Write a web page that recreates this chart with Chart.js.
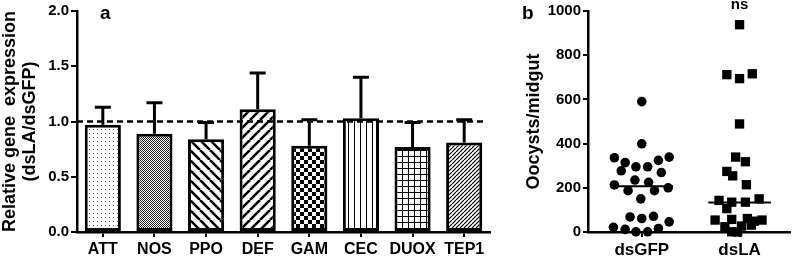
<!DOCTYPE html>
<html lang="en">
<head>
    <meta charset="UTF-8">
    <title>Relative gene expression / Oocysts per midgut</title>
    <script src="https://cdn.jsdelivr.net/npm/chart.js@4"></script>
    <style>
        body {
            margin: 0;
            background-color: #ffffff;
        }

        canvas {
            position: absolute;
            top: 0;
        }

        #chart-a {
            left: 0;
            width: 500px;
            height: 257px;
        }

        #chart-b {
            left: 500px;
            width: 297px;
            height: 257px;
        }
    </style>
</head>
<body>
    <canvas id="chart-a" width="500" height="257"></canvas>
    <canvas id="chart-b" width="297" height="257"></canvas>

    <script>
        // panel a data
        const genes = ['ATT', 'NOS', 'PPO', 'DEF', 'GAM', 'CEC', 'DUOX', 'TEP1'];
        const expression = [0.97, 0.89, 0.84, 1.11, 0.78, 1.03, 0.77, 0.81];
        const expressionErr = [0.16, 0.28, 0.15, 0.33, 0.235, 0.37, 0.22, 0.205];
        const yTicksA = [0, 0.5, 1.0, 1.5, 2.0];

        // panel b data
        const groups = ['dsGFP', 'dsLA'];
        const gfpOocysts = [590, 399, 336, 339, 314, 324, 295, 295, 277, 269, 235, 225, 213, 200, 187, 187, 150, 68, 71, 61, 21, 46, 12, 16, 1, 1];
        const gfpSpread = [0, 0, -0.28, 0.28, -0.17, 0.17, -0.06, 0.06, -0.21, 0.2, -0.07, 0.07, -0.28, 0.27, -0.14, 0.13, -0.01, -0.12, 0.12, 0, -0.29, 0.28, -0.17, 0.17, -0.06, 0.06];
        const laOocysts = [938, 712, 694, 716, 489, 339, 318, 274, 254, 214, 143, 135, 135, 150, 106, 54, 57, 61, 49, 54, 24, 27, 31, 1, 0];
        const laSpread = [0, -0.13, 0, 0.13, 0, -0.04, 0.06, -0.13, -0.07, 0.07, -0.21, -0.08, 0.06, 0.2, -0.13, -0.25, -0.08, 0.08, 0.15, 0.23, -0.15, 0.02, 0.12, -0.08, -0.02];
        const medians = [207, 134];

        const font = 'Liberation Sans, Arial, sans-serif';

        function makePattern(kind) {
            const c = document.createElement('canvas');
            const g = c.getContext('2d');
            let s = 8;
            if (kind === 'dots') s = 4;
            if (kind === 'finecheck') s = 2;
            if (kind === 'check') s = 8;
            if (kind === 'back' || kind === 'fwd') s = 10;
            if (kind === 'vlines') s = 6;
            if (kind === 'grid') s = 6;
            if (kind === 'finefwd') s = 4;
            c.width = s;
            c.height = s;
            g.fillStyle = '#fff';
            g.fillRect(0, 0, s, s);
            g.fillStyle = '#000';
            g.strokeStyle = '#000';
            if (kind === 'dots') {
                g.fillStyle = '#555';
                g.fillRect(1, 1, 1, 1);
            } else if (kind === 'finecheck') {
                g.fillStyle = '#222';
                g.fillRect(0, 0, 1, 1);
                g.fillRect(1, 1, 1, 1);
            } else if (kind === 'check') {
                g.fillRect(0, 0, 4, 4);
                g.fillRect(4, 4, 4, 4);
            } else if (kind === 'back' || kind === 'fwd' || kind === 'finefwd') {
                g.lineWidth = kind === 'finefwd' ? 1.2 : 2.6;
                g.beginPath();
                for (let k = -s; k <= s; k += s) {
                    if (kind === 'back') {
                        g.moveTo(k, 0);
                        g.lineTo(k + s, s);
                    } else {
                        g.moveTo(k, s);
                        g.lineTo(k + s, 0);
                    }
                }
                g.stroke();
            } else if (kind === 'vlines') {
                g.fillRect(0, 0, 1, s);
            } else if (kind === 'grid') {
                g.fillRect(0, 0, 1, s);
                g.fillRect(0, 0, s, 1);
            }
            return g.createPattern(c, 'repeat');
        }

        const barFills = ['dots', 'finecheck', 'back', 'fwd', 'check', 'vlines', 'grid', 'finefwd'].map(makePattern);

        // error bars + dashed reference line + panel letter
        const barExtras = {
            id: 'barExtras',
            afterDatasetsDraw(chart) {
                const { ctx, chartArea } = chart;
                const x = chart.scales.x;
                const y = chart.scales.y;
                ctx.save();
                ctx.strokeStyle = '#000';
                ctx.lineWidth = 3;
                genes.forEach((g, i) => {
                    const px = x.getPixelForValue(i);
                    const base = y.getPixelForValue(expression[i]);
                    const top = y.getPixelForValue(expression[i] + expressionErr[i]);
                    ctx.beginPath();
                    ctx.moveTo(px, base);
                    ctx.lineTo(px, top);
                    ctx.moveTo(px - 8, top);
                    ctx.lineTo(px + 8, top);
                    ctx.stroke();
                });
                ctx.lineWidth = 2.5;
                ctx.setLineDash([6, 4]);
                const y1 = y.getPixelForValue(1.0);
                ctx.beginPath();
                ctx.moveTo(chartArea.left, y1);
                ctx.lineTo(chartArea.right - 7, y1);
                ctx.stroke();
                ctx.setLineDash([]);
                ctx.fillStyle = '#000';
                ctx.font = 'bold 19px ' + font;
                ctx.textBaseline = 'alphabetic';
                ctx.fillText('a', 100, 19);
                ctx.restore();
            }
        };

        new Chart(document.getElementById('chart-a'), {
            type: 'bar',
            data: {
                labels: genes,
                datasets: [{
                    data: expression,
                    backgroundColor: barFills,
                    borderColor: '#000',
                    borderWidth: 3,
                    borderSkipped: false,
                    barPercentage: 0.7,
                    categoryPercentage: 1.0
                }]
            },
            options: {
                responsive: false,
                animation: false,
                devicePixelRatio: 1,
                layout: { padding: { top: 8, right: 10, left: 0, bottom: 0 } },
                plugins: {
                    legend: { display: false },
                    tooltip: { enabled: false }
                },
                scales: {
                    x: {
                        grid: { offset: false, drawOnChartArea: false, tickLength: 5, color: '#000', lineWidth: 2 },
                        border: { color: '#000', width: 2.5 },
                        ticks: {
                            color: '#000',
                            padding: 3,
                            autoSkip: false,
                            maxRotation: 0,
                            minRotation: 0,
                            font: { family: font, size: 16, weight: 'bold' }
                        },
                        afterFit(s) { s.height = 25; }
                    },
                    y: {
                        min: 0,
                        max: 2,
                        afterBuildTicks(s) { s.ticks = yTicksA.map(v => ({ value: v })); },
                        grid: { drawOnChartArea: false, tickLength: 6, color: '#000', lineWidth: 2 },
                        border: { color: '#000', width: 2.5 },
                        ticks: {
                            color: '#000',
                            padding: 2,
                            font: { family: font, size: 15, weight: 'bold' },
                            callback: v => v.toFixed(1)
                        },
                        title: {
                            display: true,
                            text: ['Relative gene  expression', '(dsLA/dsGFP)'],
                            color: '#000',
                            padding: { top: 0, bottom: 0 },
                            font: { family: font, size: 18, weight: 'bold', lineHeight: 1.1 }
                        },
                        afterFit(s) { s.width = 77; }
                    }
                }
            },
            plugins: [barExtras]
        });

        // median lines, "ns" and panel letter
        const dotExtras = {
            id: 'dotExtras',
            afterDatasetsDraw(chart) {
                const { ctx } = chart;
                const x = chart.scales.x;
                const y = chart.scales.y;
                ctx.save();
                ctx.strokeStyle = '#000';
                ctx.lineWidth = 2;
                medians.forEach((m, i) => {
                    const py = y.getPixelForValue(m);
                    ctx.beginPath();
                    ctx.moveTo(x.getPixelForValue(i + 1 - 0.32), py);
                    ctx.lineTo(x.getPixelForValue(i + 1 + 0.32), py);
                    ctx.stroke();
                });
                ctx.fillStyle = '#000';
                ctx.textAlign = 'center';
                ctx.font = 'bold 15px ' + font;
                ctx.fillText('ns', x.getPixelForValue(2), 9);
                ctx.textAlign = 'left';
                ctx.font = 'bold 19px ' + font;
                ctx.fillText('b', 22, 19);
                ctx.restore();
            }
        };

        new Chart(document.getElementById('chart-b'), {
            type: 'scatter',
            data: {
                datasets: [{
                    data: gfpOocysts.map((v, i) => ({ x: 1 + gfpSpread[i], y: v })),
                    pointStyle: 'circle',
                    pointRadius: 4.8,
                    backgroundColor: '#000',
                    borderColor: '#000',
                    borderWidth: 0
                }, {
                    data: laOocysts.map((v, i) => ({ x: 2 + laSpread[i], y: v })),
                    pointStyle: 'rect',
                    pointRadius: 6.6,
                    backgroundColor: '#000',
                    borderColor: '#000',
                    borderWidth: 0
                }]
            },
            options: {
                responsive: false,
                animation: false,
                devicePixelRatio: 1,
                clip: false,
                layout: { padding: { top: 8, right: 0, left: 0, bottom: 0 } },
                plugins: {
                    legend: { display: false },
                    tooltip: { enabled: false }
                },
                scales: {
                    x: {
                        type: 'linear',
                        min: 0.45,
                        max: 2.52,
                        afterBuildTicks(s) { s.ticks = [{ value: 1 }, { value: 2 }]; },
                        grid: { drawOnChartArea: false, tickLength: 5, color: '#000', lineWidth: 2 },
                        border: { color: '#000', width: 2.5 },
                        ticks: {
                            color: '#000',
                            padding: 3,
                            maxRotation: 0,
                            minRotation: 0,
                            font: { family: font, size: 17, weight: 'bold' },
                            callback: v => groups[v - 1]
                        },
                        afterFit(s) { s.height = 25; }
                    },
                    y: {
                        min: 0,
                        max: 1000,
                        ticks: {
                            stepSize: 200,
                            color: '#000',
                            padding: 2,
                            font: { family: font, size: 15, weight: 'bold' },
                            callback: v => String(v)
                        },
                        grid: { drawOnChartArea: false, tickLength: 5, color: '#000', lineWidth: 2 },
                        border: { color: '#000', width: 2.5 },
                        title: {
                            display: true,
                            text: 'Oocysts/midgut',
                            color: '#000',
                            padding: { top: 24, bottom: 0 },
                            font: { family: font, size: 18, weight: 'bold', lineHeight: 1.1 }
                        },
                        afterFit(s) { s.width = 88; }
                    }
                }
            },
            plugins: [dotExtras]
        });
    </script>
</body>
</html>
